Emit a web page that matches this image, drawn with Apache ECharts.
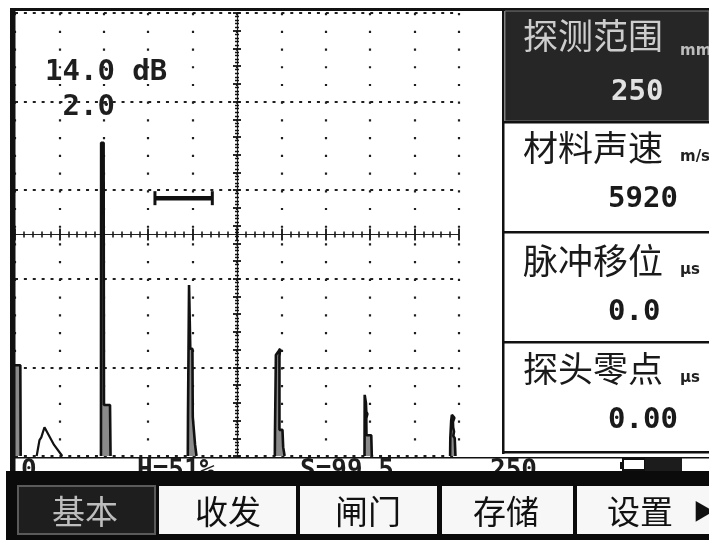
<!DOCTYPE html>
<html><head><meta charset="utf-8">
<script src="https://cdn.jsdelivr.net/npm/echarts@6/dist/echarts.min.js"></script>
<style>html,body{margin:0;padding:0;background:#fff;}#c{width:709px;height:540px;}</style>
</head><body><div id="c"></div>
<script>
// ---- data ----
const depthRange = [0, 250];      // mm (x axis)
const ampRange = [0, 100];        // % screen height (y axis)
// A-scan waveform, [depth mm, amplitude %]
const initialPulse = [[0,20.5],[3.0,20.5],[3.2,0]];
const surfaceEcho = [[12.2,0],[13.8,3.6],[14.8,4.2],[16.6,6.5],[17.4,6.2],[22.0,2.5],[26.6,0]];
const backwall1 = [[48.4,0],[48.5,70.7],[49.9,70.7],[50.1,11.5],[53.5,11.5],[53.8,0]];
const backwall2 = [[97.3,0],[97.4,8.8],[97.9,8.8],[98.0,38.6],[98.5,38.6],[98.7,24.2],[99.9,24.2],[100.1,8.8],[101.0,8.8],[101.4,2.5],[102.2,0]];
const backwall3 = [[146.3,0],[146.4,5.9],[146.7,5.9],[146.9,22.8],[148.3,23.6],[149.3,24.2],[148.9,22.5],[148.9,5.9],[150.6,5.9],[151.0,2.0],[151.8,0]];
const backwall4 = [[196.8,0],[196.9,13.8],[197.4,13.8],[197.6,12.0],[198.5,12.0],[197.8,10.0],[198.4,9.5],[197.8,8.5],[197.9,4.7],[200.6,4.7],[200.9,0]];
const backwall5 = [[245.0,0],[245.1,4.0],[245.4,4.0],[245.6,8.0],[246.0,9.3],[246.5,9.3],[247.4,8.6],[246.6,7.7],[246.7,6.5],[247.2,5.5],[246.8,4.5],[247.6,4.0],[248.0,0]];
const gateLine = [[78.8,58.2],[111.1,58.2]];
const gainLabel = '14.0 dB';
const stepLabel = ' 2.0';
const paramNames = ['探测范围','材料声速','脉冲移位','探头零点'];
const paramUnits = ['mm','m/s','µs','µs'];
const paramValues = ['250','5920','0.0','0.00'];
const menuItems = ['基本','收发','闸门','存储','设置'];
const statusItems = ['0','H=51%','S=99.5','250'];

// ---- chart ----
const chart = echarts.init(document.getElementById('c'));
const INK = '#111';
const MONO = '"DejaVu Sans Mono", "Liberation Mono", monospace';
const SANS = '"DejaVu Sans", sans-serif';
const CJK = '"Noto Sans CJK SC", sans-serif';

const filled = [initialPulse, backwall1, backwall2, backwall3, backwall4, backwall5];
const series = filled.map(d => ({
  type: 'line', xAxisIndex: 0, yAxisIndex: 0, data: d, symbol: 'none',
  silent: true, z: 5,
  lineStyle: { color: INK, width: 2.6, join: 'bevel' },
  areaStyle: { color: '#8a8a8a', opacity: 1 }
}));
series.push({
  type: 'line', xAxisIndex: 0, yAxisIndex: 0, data: surfaceEcho, symbol: 'none',
  silent: true, z: 5, lineStyle: { color: INK, width: 2.2, join: 'bevel' }
});
series.push({
  type: 'line', xAxisIndex: 0, yAxisIndex: 0, data: gateLine,
  symbol: 'rect', symbolSize: [3, 14], silent: true, z: 6,
  itemStyle: { color: INK }, lineStyle: { color: INK, width: 4.5 }
});

const hidden = { axisLabel: { show: false }, splitLine: { show: false } };
const xAxes = [
  { type: 'value', min: depthRange[0], max: depthRange[1], interval: 25, position: 'bottom',
    axisLine: { show: false, onZero: false }, axisTick: { show: false }, axisLabel: { show: false },
    splitLine: { show: true, lineStyle: { color: '#1e1e1e', width: 2.2, type: [2.2, 15.52] } } },
  { type: 'value', min: -125, max: 125, interval: 25, position: 'bottom', ...hidden,
    axisLine: { show: true, onZero: true, onZeroAxisIndex: 2, lineStyle: { color: '#222', width: 1.2 } },
    axisTick: { show: true, length: 6, lineStyle: { color: INK, width: 1.8 } },
    minorTick: { show: true, splitNumber: 5, length: 3, lineStyle: { color: INK, width: 1.5 } } },
  { type: 'value', min: -125, max: 125, interval: 25, position: 'bottom', ...hidden,
    axisLine: { show: false, onZero: true, onZeroAxisIndex: 2 },
    axisTick: { show: true, inside: true, length: 6, lineStyle: { color: INK, width: 1.8 } },
    minorTick: { show: true, splitNumber: 5, length: 3, lineStyle: { color: INK, width: 1.5 } } }
];
const yAxes = [
  { type: 'value', min: ampRange[0], max: ampRange[1], interval: 20, position: 'left',
    axisLine: { show: false, onZero: false }, axisTick: { show: false }, axisLabel: { show: false },
    splitLine: { show: true, lineStyle: { color: '#1e1e1e', width: 2.2, type: [3, 5.88] } } },
  { type: 'value', min: 0, max: 100, interval: 4, position: 'left', ...hidden,
    axisLine: { show: true, onZero: true, onZeroAxisIndex: 1, lineStyle: { color: '#222', width: 1.2 } },
    axisTick: { show: true, length: 4, lineStyle: { color: INK, width: 1.8 } },
    minorTick: { show: true, splitNumber: 5, length: 2, lineStyle: { color: INK, width: 1.4 } } },
  { type: 'value', min: -50, max: 50, interval: 10, position: 'left', ...hidden,
    axisLine: { show: false, onZero: false }, axisTick: { show: false } },
  { type: 'value', min: 0, max: 100, interval: 4, position: 'left', ...hidden,
    axisLine: { show: false, onZero: true, onZeroAxisIndex: 1 },
    axisTick: { show: true, inside: true, length: 4, lineStyle: { color: INK, width: 1.8 } },
    minorTick: { show: true, splitNumber: 5, length: 2, lineStyle: { color: INK, width: 1.4 } } }
];

// ---- screen furniture (graphic) ----
const g = [];
const rect = (x, y, w, h, style, z) => g.push({ type: 'rect', shape: { x, y, width: w, height: h }, style, z: z || 10, silent: true });
const text = (x, y, t, font, fill, align, z) => g.push({ type: 'text', x, y, style: { text: t, font, fill, align: align || 'left', verticalAlign: 'middle' }, z: z || 20, silent: true });

// frame
rect(10, 8, 699, 3, { fill: INK });
rect(10, 8, 5.5, 463, { fill: INK });
rect(502, 8, 2.5, 446, { fill: INK });
// right parameter panel
rect(505, 11, 204, 110, { fill: '#262626', stroke: '#7a7a7a', lineWidth: 1 });
[121, 231, 341, 451].forEach(y => rect(503, y, 206, 2.5, { fill: INK }));
const labelY = [36, 148, 261, 369];
const valueY = [92, 199, 312, 420];
const valueX = [611, 608, 608, 608];
const unitY = [51, 157, 270, 378];
paramNames.forEach((n, i) => {
  const dark = i === 0;
  text(523, labelY[i], n, '35px ' + CJK, dark ? '#cdcdcd' : '#1a1a1a');
  text(680, unitY[i], paramUnits[i], 'bold 15px ' + SANS, dark ? '#bdbdbd' : '#222');
  text(valueX[i], valueY[i], paramValues[i], 'bold 29px ' + MONO, dark ? '#e2e2e2' : '#1a1a1a');
});
// gain / step readout on the screen
text(45, 72, gainLabel, 'bold 29px ' + MONO, '#1e1e1e');
text(45, 107, stepLabel, 'bold 29px ' + MONO, '#1e1e1e');
// status bar
rect(15, 457, 694, 1.5, { fill: INK });
const statusX = [21, 137, 300, 490];
statusItems.forEach((s, i) => text(statusX[i], 471, s, 'bold 26px ' + MONO, '#1e1e1e', 'left', 30));
rect(620, 462, 3, 7, { fill: INK }, 30);
rect(623, 459, 22, 11, { fill: '#fff', stroke: INK, lineWidth: 2 }, 30);
rect(645, 458, 37, 13, { fill: '#1c1c1c' }, 30);
// bottom menu
rect(6, 471, 703, 69, { fill: '#0b0b0b' }, 40);
const btnX = [18, 159, 300, 442, 577];
const btnW = [137, 137, 137, 131, 140];
const btnTextX = [85, 228, 368, 506, 640];
menuItems.forEach((m, i) => {
  const active = i === 0;
  rect(btnX[i], 486, btnW[i], 48, active ? { fill: '#1e1e1e', stroke: '#5a5a5a', lineWidth: 2 } : { fill: '#f7f7f7' }, 41);
  text(btnTextX[i], 511, m, '33px ' + CJK, active ? '#bdbdbd' : '#111', 'center', 42);
});
text(693, 511, '▶', '22px ' + CJK, '#111', 'left', 42);

chart.setOption({
  animation: false,
  backgroundColor: '#fff',
  grid: { left: 15, right: 250, top: 13, bottom: 84, containLabel: false },
  xAxis: xAxes,
  yAxis: yAxes,
  series: series,
  graphic: { elements: g }
});
</script></body></html>
